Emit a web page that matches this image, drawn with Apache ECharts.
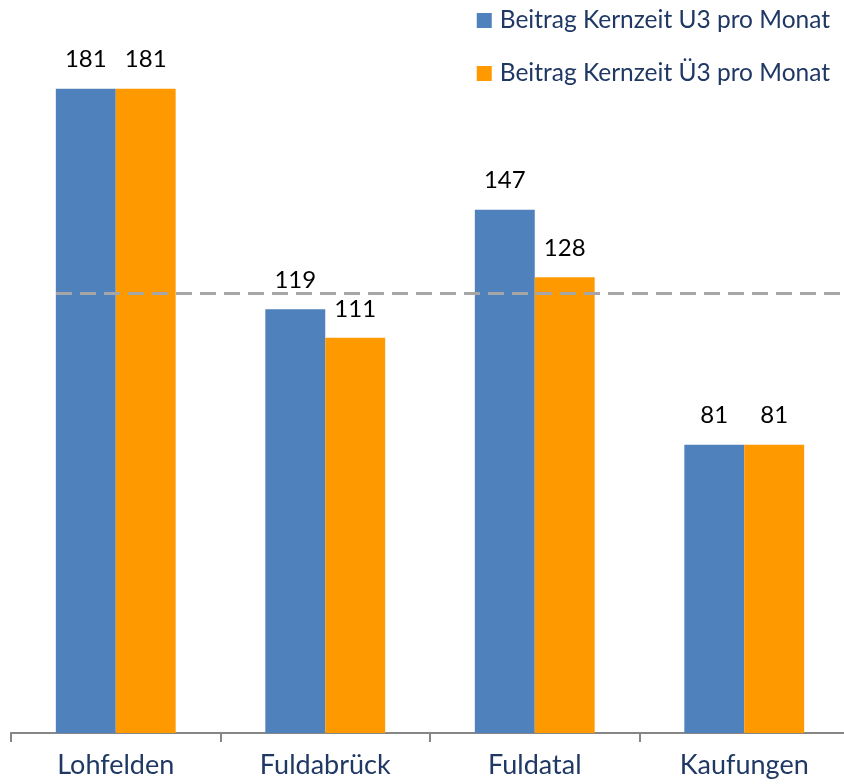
<!DOCTYPE html>
<html>
<head>
<meta charset="utf-8">
<script src="https://cdn.jsdelivr.net/npm/echarts@6/dist/echarts.min.js"></script>
<style>
  html, body { margin: 0; padding: 0; background: #ffffff; overflow: hidden; }
  #chart { width: 852px; height: 784px; }
</style>
</head>
<body>
<div id="chart"></div>
<script>
// Gemeinden und Beiträge (Euro pro Monat)
const categories = ['Lohfelden', 'Fuldabrück', 'Fuldatal', 'Kaufungen']
const seriesNames = ['Beitrag Kernzeit U3 pro Monat', 'Beitrag Kernzeit Ü3 pro Monat']
const valuesU3 = [181, 119, 147, 81]
const valuesUe3 = [181, 111, 128, 81]
// Referenzlinie (gestrichelt)
const referenceValue = 123.6

const FONT = 'Lato'
const chart = echarts.init(document.getElementById('chart'))

const barLabel = {
  show: true,
  position: 'top',
  distance: 17,
  color: '#000000',
  fontFamily: FONT,
  fontSize: 24
}

const option = {
  animation: false,
  grid: {
    left: 11,
    right: 3,
    top: 21,
    bottom: 51
  },
  legend: {
    data: seriesNames,
    orient: 'vertical',
    right: 17,
    top: 3,
    itemWidth: 15,
    itemHeight: 15,
    itemGap: 28,
    icon: 'rect',
    textStyle: {
      color: '#1f3864',
      fontFamily: FONT,
      fontSize: 24.5,
      padding: [0, 0, 0, 3]
    }
  },
  xAxis: {
    type: 'category',
    data: categories,
    axisLine: { lineStyle: { color: '#868686', width: 2 } },
    axisTick: { show: true, length: 9, lineStyle: { color: '#868686', width: 2 } },
    axisLabel: {
      color: '#1f3864',
      fontFamily: FONT,
      fontSize: 27,
      margin: 19
    }
  },
  yAxis: {
    type: 'value',
    min: 0,
    max: 200,
    show: false,
    splitLine: { show: false }
  },
  series: [
    {
      name: seriesNames[0],
      type: 'bar',
      data: valuesU3,
      barWidth: '28.6%',
      barGap: '0%',
      itemStyle: { color: '#4f81bd' },
      label: barLabel,
      markLine: {
        silent: true,
        symbol: 'none',
        label: { show: false },
        lineStyle: { color: '#a6a6a6', width: 3, type: [16, 8] },
        data: [[
          { yAxis: referenceValue, x: 56 },
          { yAxis: referenceValue, x: 852 }
        ]]
      }
    },
    {
      name: seriesNames[1],
      type: 'bar',
      data: valuesUe3,
      barWidth: '28.6%',
      barGap: '0%',
      itemStyle: { color: '#ff9900' },
      label: barLabel
    }
  ]
}

chart.setOption(option)
</script>
</body>
</html>
